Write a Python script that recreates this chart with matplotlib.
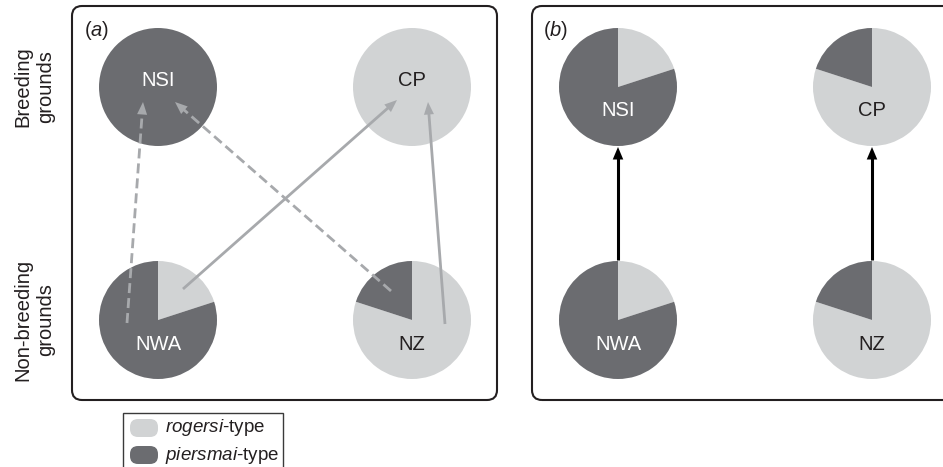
import numpy as np
import matplotlib
matplotlib.use("Agg")
import matplotlib.pyplot as plt
from matplotlib.patches import FancyBboxPatch, FancyArrowPatch, Rectangle

plt.rcParams["font.family"] = ["Liberation Sans", "DejaVu Sans"]
plt.rcParams["mathtext.fontset"] = "custom"
plt.rcParams["mathtext.rm"] = "Liberation Sans"
plt.rcParams["mathtext.it"] = "Liberation Sans:italic"

# ---- data -------------------------------------------------------------
sites = ["NSI", "CP", "NWA", "NZ"]
ground = ["breeding", "breeding", "non-breeding", "non-breeding"]
# % of individuals of each mitochondrial type, panel (a) and (b)
rogersi_a = [0, 100, 20, 80]
piersmai_a = [100, 0, 80, 20]
rogersi_b = [20, 80, 20, 80]
piersmai_b = [80, 20, 80, 20]
# migratory connections: (from, to, dashed)
flows_a = [("NWA", "NSI", True), ("NWA", "CP", False),
           ("NZ", "NSI", True), ("NZ", "CP", False)]
flows_b = [("NWA", "NSI"), ("NZ", "CP")]
row_labels = ["Breeding\ngrounds", "Non-breeding\ngrounds"]
legend_labels = [r"$\it{rogersi}$-type", r"$\it{piersmai}$-type"]

# ---- style ------------------------------------------------------------
LIGHT = "#d1d3d4"
DARK = "#6b6c70"
ARROW_GREY = "#a7a9ac"
INK = "#231f20"
W, H = 943, 467
R = 59


def fy(y):
    # pixel row (top origin) -> data y
    return H - y


# layout, pixel coords
col_x = {"a": [158, 412], "b": [618, 872]}
row_y = {"breeding": 87, "non-breeding": 320}

fig = plt.figure(figsize=(W / 100, H / 100), dpi=100)
ax = fig.add_axes([0, 0, 1, 1])


def centre(panel, site):
    i = sites.index(site)
    return np.array([col_x[panel][i % 2], fy(row_y[ground[i]])], dtype=float)


def draw_pies(panel, rog, pie):
    for i, s in enumerate(sites):
        c = centre(panel, s)
        ax.pie([rog[i], pie[i]], colors=[LIGHT, DARK], center=tuple(c), radius=R,
               startangle=90, counterclock=False, frame=True,
               wedgeprops=dict(linewidth=0))
        pure = rog[i] == 0 or pie[i] == 0
        ty = c[1] + 7 if pure else c[1] - 24
        tc = "white" if pie[i] > rog[i] else INK
        ax.text(c[0], ty, s, ha="center", va="center", fontsize=14.5,
                color=tc, zorder=5)


def arrow(p0, p1, color, lw, dashed, hl=9, hw=3.6):
    d = (p1 - p0) / np.hypot(*(p1 - p0))
    hl_px = hl * 100 / 72
    base = p1 - d * hl_px * 0.9
    ls = (0, (3.6, 1.8)) if dashed else "-"
    ax.plot([p0[0], base[0]], [p0[1], base[1]], color=color, lw=lw, ls=ls,
            solid_capstyle="butt", zorder=4)
    ax.add_patch(FancyArrowPatch(tuple(base - d * 2), tuple(p1),
                                 arrowstyle=f"-|>,head_length={hl},head_width={hw}",
                                 mutation_scale=1, color=color, lw=0,
                                 shrinkA=0, shrinkB=0, zorder=4))


# panel frames
for x0, x1 in [(72, 497), (532, 965)]:
    ax.add_patch(FancyBboxPatch((x0, fy(400)), x1 - x0, 394,
                                boxstyle="round,pad=0,rounding_size=10",
                                fill=False, ec=INK, lw=1.5, zorder=1))
ax.text(84, fy(31), r"($\it{a}$)", ha="left", va="center", fontsize=14.5, color=INK)
ax.text(543, fy(31), r"($\it{b}$)", ha="left", va="center", fontsize=14.5, color=INK)

draw_pies("a", rogersi_a, piersmai_a)
draw_pies("b", rogersi_b, piersmai_b)

# panel (a) arrows: offsets from pie centres (pixels, y down)
start_off = {("NWA", "NSI"): (-31, 3), ("NWA", "CP"): (25, -31),
             ("NZ", "NSI"): (-21, -29), ("NZ", "CP"): (33, 4)}
end_off = {("NWA", "NSI"): (-15, 15), ("NWA", "CP"): (-15, 13),
           ("NZ", "NSI"): (17, 15), ("NZ", "CP"): (16, 15)}
for src, dst, dashed in flows_a:
    so, eo = start_off[(src, dst)], end_off[(src, dst)]
    p0 = centre("a", src) + np.array([so[0], -so[1]])
    p1 = centre("a", dst) + np.array([eo[0], -eo[1]])
    arrow(p0, p1, ARROW_GREY, 2.0, dashed)

# panel (b) arrows: edge to edge
for src, dst in flows_b:
    p0 = centre("b", src) + np.array([0, R + 1])
    p1 = centre("b", dst) - np.array([0, R + 1])
    arrow(p0, p1, "black", 2.2, False, hl=9, hw=3.8)

# row labels
for lab, g in zip(row_labels, ["breeding", "non-breeding"]):
    ax.text(34, fy(row_y[g]), lab, rotation=90, ha="center", va="center",
            fontsize=14.5, color=INK, linespacing=1.25, multialignment="center")

# legend
ax.add_patch(Rectangle((123, fy(472)), 160, 59, fill=False, ec="#3a3a3a", lw=1.0))
for k, (lab, col) in enumerate(zip(legend_labels, [LIGHT, DARK])):
    yc = 428 + 27 * k
    ax.add_patch(FancyBboxPatch((130, fy(yc + 9)), 28, 18,
                                boxstyle="round,pad=0,rounding_size=8",
                                fc=col, ec="none"))
    ax.text(165, fy(yc), lab, ha="left", va="center", fontsize=13.5, color=INK)

ax.set_xlim(0, W)
ax.set_ylim(0, H)
ax.set_aspect("equal")
ax.axis("off")
fig.savefig("out.png", dpi=100)
